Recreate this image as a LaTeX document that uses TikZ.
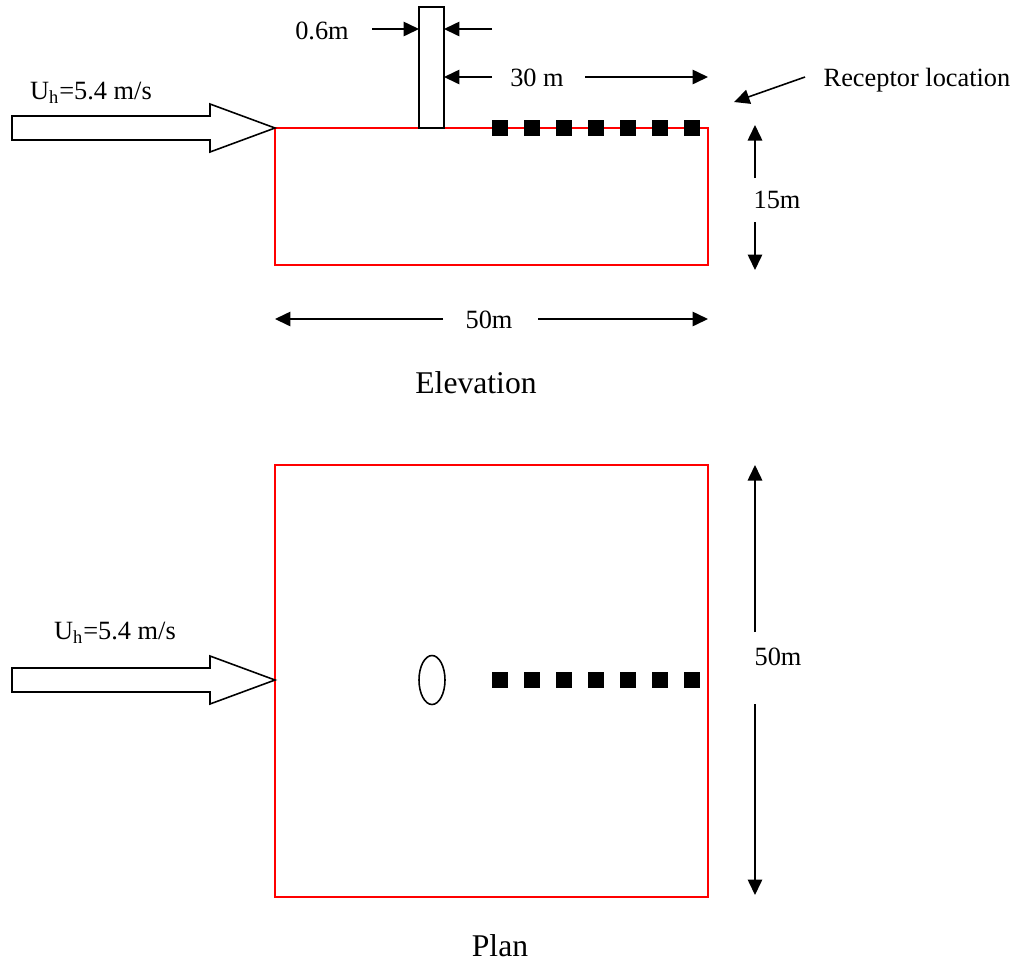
\documentclass[tikz,border=0pt]{standalone}
\usepackage{fontspec}
\setmainfont{Liberation Serif}
\usetikzlibrary{arrows.meta,shapes.geometric}

\begin{document}
\begin{tikzpicture}[x=0.02cm, y=-0.02cm,
    dim/.style={line width=0.9pt, -{Triangle[length=0.31cm,width=0.29cm]}},
    wall/.style={red, line width=1pt},
    rec/.style={fill=black, minimum size=0.32cm, inner sep=0pt},
    lbl/.style={font=\fontsize{15}{18}\selectfont},
    ttl/.style={font=\fontsize{18}{22}\selectfont}]
    \useasboundingbox (0,0) rectangle (1019,965);

    % Elevation
    \draw[wall] (275,128) rectangle (708,265);
    \draw[line width=0.9pt, fill=white] (419,7) rectangle (444,128);
    \draw[line width=0.9pt] (12,116) -- (210,116) -- (210,104) -- (275,128)
        -- (210,152) -- (210,140) -- (12,140) -- cycle;
    \node[lbl] (wind1) at (91,93) {U\textsubscript{h}=5.4 m/s};
    \foreach \i in {0,...,6}
        \node[rec] (e\i) at ({500+32*\i},128) {};

    % stack width and distance
    \node[lbl] (dia) at (322,31) {0.6m};
    \draw[dim] (372,29) -- (419,29);
    \draw[dim] (492,29) -- (444,29);
    \draw[dim] (492,77) -- (444,77);
    \node[lbl] (dist) at (537,78) {30 m};
    \draw[dim] (585,77) -- (708,77);
    \node[lbl] (recp) at (917,80) {Receptor location};
    \draw[dim] (805,77) -- (734,102);

    % height and length
    \node[lbl] (h15) at (777,200) {15m};
    \draw[dim] (755,178) -- (755,125);
    \draw[dim] (755,222) -- (755,270);
    \node[lbl] (len1) at (489,320) {50m};
    \draw[dim] (443,319) -- (275,319);
    \draw[dim] (538,319) -- (708,319);
    \node[ttl] (elev) at (476,383) {Elevation};

    % Plan
    \draw[wall] (275,465) rectangle (708,897);
    \draw[line width=0.9pt] (12,668) -- (210,668) -- (210,656) -- (275,680)
        -- (210,704) -- (210,692) -- (12,692) -- cycle;
    \node[lbl] (wind2) at (115,633) {U\textsubscript{h}=5.4 m/s};
    \node[draw, ellipse, line width=0.9pt, minimum width=0.52cm,
        minimum height=0.98cm, inner sep=0pt] (stack) at (432,680) {};
    \foreach \i in {0,...,6}
        \node[rec] (p\i) at ({500+32*\i},680) {};
    \node[lbl] (len2) at (778,657) {50m};
    \draw[dim] (755,632) -- (755,465);
    \draw[dim] (755,704) -- (755,895);
    \node[ttl] (plan) at (500,946) {Plan};
\end{tikzpicture}
\end{document}
